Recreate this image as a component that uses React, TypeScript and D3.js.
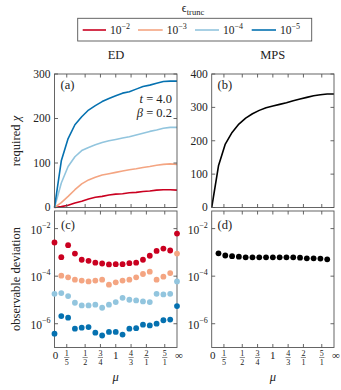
import React from "react";
import * as d3 from "d3";

// mu samples (u = mu/2 below 1, 1 - 1/(2 mu) above)
const muValues = [0, 1 / 9, 2 / 9, 3 / 9, 4 / 9, 5 / 9, 6 / 9, 7 / 9, 8 / 9, 1, 9 / 8, 9 / 7, 9 / 6, 9 / 5, 9 / 4, 9 / 3, 9 / 2, 9 / 1, Infinity];

const truncExps = ["−2", "−3", "−4", "−5"];
const truncColors = ["#ca0020", "#f4a582", "#92c5de", "#0571b0"];

// required chi, ED, one row per truncation
const chiED = [
  [0, 2, 5, 10, 14, 19, 23, 25, 28, 30, 31, 33, 34, 36, 37, 39, 40, 40, 39],
  [0, 11, 25, 40, 53, 62, 68, 73, 76, 79, 82, 85, 87, 90, 92, 95, 97, 98, 97],
  [0, 55, 92, 114, 128, 135, 141, 146, 150, 153, 156, 159, 163, 167, 171, 174, 178, 180, 180],
  [0, 105, 155, 186, 204, 219, 229, 238, 245, 251, 257, 260, 266, 272, 275, 279, 283, 284, 284],
];
const chiMPS = [0, 125, 190, 225, 250, 268, 281, 291, 299, 304, 309, 314, 320, 325, 330, 335, 338, 340, 340];

// observable deviation
const devED = [
  [2.6e-3, 6.3e-4, 2.0e-3, 8.9e-4, 4.9e-4, 4.4e-4, 3.7e-4, 3.4e-4, 3.1e-4, 3.2e-4, 3.2e-4, 3.5e-4, 3.7e-4, 4.9e-4, 7.2e-4, 1.15e-3, 1.45e-3, 1.2e-3, 6.2e-3],
  [null, 1.05e-4, 8.9e-5, 7.1e-5, 6.5e-5, 6.0e-5, 6.5e-5, 7.1e-5, 4.4e-5, 5.5e-5, 6.5e-5, 7.1e-5, 8.9e-5, 1.23e-4, 1.55e-4, 7.1e-5, 9.5e-5, 1.35e-4, 8.9e-4],
  [1.8e-5, 1.95e-5, 1.45e-5, 7.6e-6, 5.9e-6, 5.9e-6, 6.3e-6, 4.7e-6, 6.3e-6, 8.1e-6, 1.23e-5, 1.02e-5, 9.5e-6, 8.7e-6, 8.1e-6, 1.8e-5, 1.7e-5, 1.8e-5, 6.0e-5],
  [3.8e-7, 2.1e-6, 1.8e-6, 6.2e-7, 6.8e-7, 7.2e-7, 4.2e-7, 3.2e-7, 4.5e-7, 4.5e-7, 3.5e-7, 6.2e-7, 6.5e-7, 9.1e-7, 8.5e-7, 1.0e-6, 1.4e-6, 1.5e-6, 5.5e-6],
];
const devMPS = [null, 9.1e-4, 7.4e-4, 6.9e-4, 6.6e-4, 6.2e-4, 6.2e-4, 6.2e-4, 6.2e-4, 6.2e-4, 6.2e-4, 6.2e-4, 6.2e-4, 6.0e-4, 5.6e-4, 5.6e-4, 5.5e-4, 5.1e-4, null];

const chiTicksED = [0, 100, 200, 300];
const chiTicksMPS = [0, 100, 200, 300, 400];
const devTicks = [1e-2, 1e-4, 1e-6];
const devTickExps = ["−2", "−4", "−6"];
const muTicks = [
  { mu: 0, label: "0" },
  { mu: 1 / 5, num: "1", den: "5" },
  { mu: 1 / 2, num: "1", den: "2" },
  { mu: 3 / 4, num: "3", den: "4" },
  { mu: 1, label: "1" },
  { mu: 4 / 3, num: "4", den: "3" },
  { mu: 2, num: "2", den: "1" },
  { mu: 5, num: "5", den: "1" },
  { mu: Infinity, label: "∞" },
];

const muPos = (m: number) => (m <= 1 ? m / 2 : 1 - 1 / (2 * m));

const FONT = "'Liberation Serif', serif";
const AXIS = "#555";
const W = 341;
const H = 390;

const colL = [54.5, 177];
const colR = [211.7, 334];
const rowTop = [74, 207.5];
const rowBot = [211, 347.5];

const xL = d3.scaleLinear().domain([0, 1]).range(colL);
const xR = d3.scaleLinear().domain([0, 1]).range(colR);
const yChiED = d3.scaleLinear().domain([0, 300]).range([rowTop[1], rowTop[0]]);
const yChiMPS = d3.scaleLinear().domain([0, 400]).range([rowTop[1], rowTop[0]]);
const yDev = d3.scaleLog().domain([1e-7, Math.pow(10, -1.26)]).range([rowBot[1], rowBot[0]]);

function Frame({ x, y, yTicks }: { x: any; y: any; yTicks: number[] }) {
  const [x0, x1] = x.range();
  const [yb, yt] = y.range();
  const tl = 3.5;
  return (
    <g stroke={AXIS} strokeWidth={0.9} fill="none">
      <rect x={x0} y={yt} width={x1 - x0} height={yb - yt} />
      {muTicks.slice(1, -1).map((t, i) => {
        const px = x(muPos(t.mu));
        return (
          <g key={i}>
            <line x1={px} x2={px} y1={yb} y2={yb - tl} />
            <line x1={px} x2={px} y1={yt} y2={yt + tl} />
          </g>
        );
      })}
      {yTicks.map((v, i) => {
        const py = y(v);
        return (
          <g key={"y" + i}>
            <line x1={x0} x2={x0 + tl} y1={py} y2={py} />
            <line x1={x1} x2={x1 - tl} y1={py} y2={py} />
          </g>
        );
      })}
    </g>
  );
}

function LinLabels({ x0, y, ticks }: { x0: number; y: any; ticks: number[] }) {
  return (
    <g fontFamily={FONT} fontSize={11.5} fill="#222" textAnchor="end">
      {ticks.map((v) => (
        <text key={v} x={x0 - 4} y={y(v)} dy="0.33em">
          {v}
        </text>
      ))}
    </g>
  );
}

function LogLabels({ x0, y }: { x0: number; y: any }) {
  return (
    <g fontFamily={FONT} fill="#222" textAnchor="end">
      {devTicks.map((v, i) => (
        <text key={i} x={x0 - 4} y={y(v)} dy="0.45em" fontSize={11.5}>
          10
          <tspan fontSize={8} dy="-0.75em">
            {devTickExps[i]}
          </tspan>
        </text>
      ))}
    </g>
  );
}

function MuLabels({ x, yb }: { x: any; yb: number }) {
  return (
    <g fontFamily={FONT} fill="#222" textAnchor="middle">
      {muTicks.map((t, i) => {
        const px = x(muPos(t.mu));
        if (t.label)
          return (
            <text key={i} x={px + (t.mu === 0 ? 1 : t.mu === Infinity ? 2 : 0)} y={yb + 11} fontSize={11}>
              {t.label}
            </text>
          );
        return (
          <g key={i}>
            <text x={px} y={yb + 8} fontSize={8}>
              {t.num}
            </text>
            <line x1={px - 2.6} x2={px + 2.6} y1={yb + 10} y2={yb + 10} stroke="#222" strokeWidth={0.5} />
            <text x={px} y={yb + 17} fontSize={8}>
              {t.den}
            </text>
          </g>
        );
      })}
      <text x={(x.range()[0] + x.range()[1]) / 2} y={yb + 33} fontSize={12.5} fontStyle="italic">
        μ
      </text>
    </g>
  );
}

export default function App() {
  const lineL = d3
    .line<number>()
    .x((_, i) => xL(muPos(muValues[i])))
    .y((d) => yChiED(d));
  const lineR = d3
    .line<number>()
    .x((_, i) => xR(muPos(muValues[i])))
    .y((d) => yChiMPS(d));

  const legendLines = [
    [82.7, 106],
    [138, 162.7],
    [195, 219],
    [251.7, 276],
  ];

  return (
    <svg width={W} height={H} style={{ position: "absolute", left: 0, top: 0 }}>
      <rect width={W} height={H} fill="#fff" />
      {/* legend */}
      <g fontFamily={FONT} fill="#222">
        <text x={193} y={12} fontSize={12} textAnchor="middle">
          ϵ
          <tspan fontSize={8.5} dy="2.5">
            trunc
          </tspan>
        </text>
        <rect x={77.7} y={18.3} width={234} height={22.7} fill="none" stroke={AXIS} strokeWidth={0.9} />
        {legendLines.map((l, i) => (
          <g key={i}>
            <line x1={l[0]} x2={l[1]} y1={30} y2={30} stroke={truncColors[i]} strokeWidth={1.6} />
            <text x={l[1] + 4} y={33.8} fontSize={11.5}>
              10
              <tspan fontSize={8} dy="-4.5">
                {truncExps[i]}
              </tspan>
            </text>
          </g>
        ))}
        <text x={116} y={59} fontSize={12.5} textAnchor="middle">
          ED
        </text>
        <text x={272.7} y={59} fontSize={12.5} textAnchor="middle">
          MPS
        </text>
      </g>

      {/* axis titles */}
      <g fontFamily={FONT} fill="#222" fontSize={12.5} textAnchor="middle">
        <text transform="translate(20,141) rotate(-90)">
          required <tspan fontStyle="italic">χ</tspan>
        </text>
        <text transform="translate(20,279) rotate(-90)">observable deviation</text>
      </g>

      {/* (a) */}
      <g>
        {chiED.map((s, i) => (
          <path key={i} d={lineL(s) || ""} fill="none" stroke={truncColors[i]} strokeWidth={1.6} strokeLinejoin="round" />
        ))}
        <Frame x={xL} y={yChiED} yTicks={chiTicksED} />
        <LinLabels x0={colL[0]} y={yChiED} ticks={chiTicksED} />
        <g fontFamily={FONT} fill="#222" fontSize={12.5}>
          <text x={60.5} y={89}>(a)</text>
          <text x={172} y={103} textAnchor="end">
            <tspan fontStyle="italic">t</tspan> = 4.0
          </text>
          <text x={172} y={117} textAnchor="end">
            <tspan fontStyle="italic">β</tspan> = 0.2
          </text>
        </g>
      </g>

      {/* (b) */}
      <g>
        <path d={lineR(chiMPS) || ""} fill="none" stroke="#000" strokeWidth={1.6} strokeLinejoin="round" />
        <Frame x={xR} y={yChiMPS} yTicks={chiTicksMPS} />
        <LinLabels x0={colR[0]} y={yChiMPS} ticks={chiTicksMPS} />
        <text x={217.5} y={89} fontFamily={FONT} fontSize={12.5} fill="#222">
          (b)
        </text>
      </g>

      {/* (c) */}
      <g>
        <Frame x={xL} y={yDev} yTicks={devTicks} />
        <LogLabels x0={colL[0]} y={yDev} />
        <text x={61} y={229} fontFamily={FONT} fontSize={12.5} fill="#222">
          (c)
        </text>
        {devED.map((s, i) => (
          <g key={i} fill={truncColors[i]}>
            {s.map((v, k) =>
              v == null ? null : <circle key={k} cx={xL(muPos(muValues[k]))} cy={yDev(v)} r={2.9} />
            )}
          </g>
        ))}
        <MuLabels x={xL} yb={rowBot[1]} />
      </g>

      {/* (d) */}
      <g>
        <Frame x={xR} y={yDev} yTicks={devTicks} />
        <LogLabels x0={colR[0]} y={yDev} />
        <text x={217.5} y={229} fontFamily={FONT} fontSize={12.5} fill="#222">
          (d)
        </text>
        <g fill="#000">
          {devMPS.map((v, k) =>
            v == null ? null : <circle key={k} cx={xR(muPos(muValues[k]))} cy={yDev(v)} r={2.9} />
          )}
        </g>
        <MuLabels x={xR} yb={rowBot[1]} />
      </g>
    </svg>
  );
}
